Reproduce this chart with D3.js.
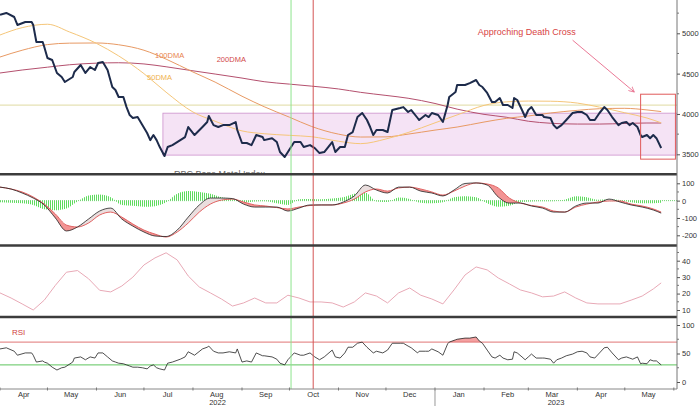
<!DOCTYPE html>
<html>
<head>
<meta charset="utf-8">
<script src="https://cdn.jsdelivr.net/npm/d3@7"></script>
<style>
  body { margin: 0; background: #fff; }
  svg { display: block; font-family: "Liberation Sans", Arial, sans-serif; }
</style>
</head>
<body>
<div id="chart"></div>
<script>
// ---- values ----
const priceDates = [
  "2022-04-01","2022-04-05","2022-04-10","2022-04-12","2022-04-17","2022-04-21","2022-04-22","2022-04-24","2022-04-28","2022-04-29",
  "2022-05-01","2022-05-04","2022-05-07","2022-05-10","2022-05-12","2022-05-17","2022-05-18","2022-05-22","2022-05-25","2022-05-28",
  "2022-05-31","2022-06-02","2022-06-05","2022-06-08","2022-06-11","2022-06-13","2022-06-15","2022-06-18","2022-06-20","2022-06-22",
  "2022-06-24","2022-06-27","2022-06-30","2022-07-03","2022-07-05","2022-07-07","2022-07-09","2022-07-11","2022-07-14","2022-07-16",
  "2022-07-19","2022-07-24","2022-07-27","2022-07-29","2022-08-02","2022-08-07","2022-08-10","2022-08-11","2022-08-14","2022-08-17",
  "2022-08-20","2022-08-24","2022-08-28","2022-08-29","2022-09-01","2022-09-04","2022-09-07","2022-09-10","2022-09-14","2022-09-15",
  "2022-09-20","2022-09-23","2022-09-25","2022-09-28","2022-09-30","2022-10-04","2022-10-08","2022-10-10","2022-10-14","2022-10-17",
  "2022-10-20","2022-10-23","2022-10-28","2022-10-30","2022-11-02","2022-11-05","2022-11-07","2022-11-10","2022-11-13","2022-11-16",
  "2022-11-19","2022-11-21","2022-11-23","2022-11-25","2022-11-29","2022-12-02","2022-12-05","2022-12-10","2022-12-12","2022-12-15",
  "2022-12-17","2022-12-21","2022-12-22","2022-12-26","2022-12-28","2022-12-30","2023-01-03","2023-01-06","2023-01-09","2023-01-10",
  "2023-01-14","2023-01-15","2023-01-20","2023-01-23","2023-01-27","2023-01-29","2023-01-31","2023-02-03","2023-02-06","2023-02-08",
  "2023-02-11","2023-02-13","2023-02-16","2023-02-19","2023-02-20","2023-02-22","2023-02-25","2023-02-27","2023-03-01","2023-03-03",
  "2023-03-06","2023-03-10","2023-03-11","2023-03-15","2023-03-17","2023-03-19","2023-03-22","2023-03-25","2023-03-29","2023-04-01",
  "2023-04-04","2023-04-07","2023-04-09","2023-04-12","2023-04-15","2023-04-18","2023-04-20","2023-04-23","2023-04-27","2023-04-29",
  "2023-05-02","2023-05-04","2023-05-06","2023-05-09","2023-05-11","2023-05-12","2023-05-15","2023-05-17","2023-05-19","2023-05-21",
  "2023-05-24"
];
const priceValues = [
  5230,5252,5202,5103,5140,5140,5103,4892,4892,4830,
  4694,4669,4508,4458,4396,4458,4520,4607,4508,4582,
  4545,4632,4644,4545,4334,4297,4210,4210,4085,3987,
  3950,3962,3862,3764,3676,3739,3676,3590,3478,3590,
  3614,3676,3714,3838,3739,3838,3900,3974,3862,3838,
  3862,3862,3900,3801,3640,3640,3614,3739,3714,3676,
  3700,3652,3528,3466,3528,3652,3652,3590,3614,3577,
  3515,3528,3652,3528,3590,3590,3739,3776,3962,4012,
  3925,3838,3739,3801,3801,3776,4049,4074,4085,4024,
  4049,3950,3925,3987,3962,4012,3987,3900,4111,4210,
  4272,4359,4359,4383,4421,4359,4334,4260,4148,4148,
  4197,4111,4111,4074,4197,4173,4049,3962,4049,4085,
  3987,3987,3962,3950,3862,3822,3862,3925,4012,4024,
  4024,3987,3925,3925,4012,4085,4049,3962,3862,3888,
  3900,3862,3888,3838,3739,3714,3739,3700,3739,3700,
  3578
];
// RSI on the same dates as the price
const rsiValues = [
  58,60,54,47,51,51,47,35,37,35,
  33,26,21,25,26,35,42,44,39,44,
  42,51,51,44,37,35,33,32,30,28,
  26,26,25,23,28,30,25,23,21,33,
  35,40,44,53,47,58,61,63,54,51,
  51,53,51,58,35,37,35,51,46,46,
  44,40,33,30,39,51,47,47,51,44,
  39,44,56,44,42,51,61,61,68,70,
  61,56,51,54,51,56,68,68,68,63,
  60,51,54,54,54,58,53,47,67,70,
  74,75,77,77,79,72,68,56,44,42,
  47,42,39,40,53,51,44,39,44,49,
  42,42,42,40,33,39,42,46,49,53,
  54,51,44,42,51,60,61,51,39,42,
  44,42,40,44,32,33,32,39,37,37,
  30
];

const maDates = [
  "2022-04-01","2022-04-15","2022-05-01","2022-05-15","2022-06-01","2022-06-15","2022-07-01","2022-07-15",
  "2022-08-01","2022-08-15","2022-09-01","2022-09-15","2022-10-01","2022-10-15","2022-11-01","2022-11-15",
  "2022-12-01","2022-12-15","2023-01-01","2023-01-15","2023-02-01","2023-02-15","2023-03-01","2023-03-15",
  "2023-04-01","2023-04-15","2023-05-01","2023-05-15","2023-05-24"
];
const ma50 = [4979,5070,5112,5016,4875,4720,4500,4270,4024,3910,3790,3755,3735,3718,3662,3632,3690,3770,3890,3988,4106,4150,4160,4158,4135,4085,4015,3950,3890];
const ma100 = [4706,4790,4860,4878,4880,4858,4790,4680,4520,4395,4220,4090,3960,3845,3750,3714,3716,3750,3800,3838,3900,3945,3975,4012,4045,4065,4070,4050,4030];
const ma200 = [4508,4545,4580,4610,4630,4635,4620,4585,4535,4495,4445,4400,4370,4345,4310,4268,4230,4195,4130,4060,3995,3960,3910,3885,3875,3875,3882,3888,3888];

const weekDates = [
  "2022-04-01","2022-04-08","2022-04-15","2022-04-22","2022-04-29","2022-05-06","2022-05-13","2022-05-20","2022-05-27",
  "2022-06-03","2022-06-10","2022-06-17","2022-06-24","2022-07-01","2022-07-08","2022-07-15","2022-07-22","2022-07-29",
  "2022-08-05","2022-08-12","2022-08-19","2022-08-26","2022-09-02","2022-09-09","2022-09-16","2022-09-23","2022-09-30",
  "2022-10-07","2022-10-14","2022-10-21","2022-10-28","2022-11-04","2022-11-11","2022-11-18","2022-11-25","2022-12-02",
  "2022-12-09","2022-12-16","2022-12-23","2022-12-30","2023-01-06","2023-01-13","2023-01-20","2023-01-27","2023-02-03",
  "2023-02-10","2023-02-17","2023-02-24","2023-03-03","2023-03-10","2023-03-17","2023-03-24","2023-03-31","2023-04-07",
  "2023-04-14","2023-04-21","2023-04-28","2023-05-05","2023-05-12","2023-05-19","2023-05-24"
];
const macdLine = [78,67,44,15,-25,-100,-175,-152,-106,-60,-43,-106,-147,-181,-204,-207,-170,-95,-25,15,15,12,-20,-37,-37,-37,-60,-43,-25,-25,-25,-8,27,90,61,44,78,78,55,44,27,61,99,102,90,21,-14,-14,-31,-43,-66,-66,-31,-14,-14,9,-8,-25,-37,-54,-72];
const signalLine = [78,67,50,21,-20,-77,-141,-152,-129,-83,-66,-95,-135,-170,-193,-210,-181,-129,-66,-20,3,9,-8,-25,-31,-40,-48,-37,-28,-25,-25,-14,9,50,67,55,73,78,67,50,32,55,84,102,96,73,15,-14,-28,-37,-60,-66,-37,-20,-8,-2,-2,-20,-31,-48,-66];
const macdHist = [-10,-12,-15,-25,-50,-55,-45,-5,30,35,20,-25,-30,-35,-32,-10,40,55,50,40,20,8,-12,-5,-3,-15,-25,8,10,8,12,20,40,45,-5,-8,18,10,-12,-15,-10,20,25,20,-15,-35,-30,-8,-5,-4,-3,5,25,20,5,8,3,-10,-15,-15,-12];
const volValues = [20.4,17.3,13.7,10,16,25,33,34,29,22,21,24.6,30,37.4,41.7,44.8,40.5,30.7,24,20.4,16.7,12.4,14.3,17.3,14.3,14.3,19,17.3,14.9,14.9,14.3,11.8,14.9,20.4,18.5,14.3,20.4,23.4,19,16.7,13.7,22.2,31.3,36.2,34.4,29.5,25.9,22.2,20.4,18,18.5,21,17.3,14.3,13.7,13.7,13.7,16,18.5,22.8,26.5];

const priceTicks = [3500, 4000, 4500, 5000];
const priceMinor = [3750, 4250, 4750, 5250];
const macdTicks = [-200, -100, 0, 100];
const macdMinor = [-150, -50, 50];
const volTicks = [10, 20, 30, 40];
const volMinor = [15, 25, 35, 45];
const rsiTicks = [0, 50, 100];
const rsiMinor = [25, 75];
const rsiLevels = [30, 70];

const rangeBox = { from: "2022-07-13", low: 3490, high: 4010 };
const resistance = 4110;
const crossBox = { from: "2023-05-11", to: "2023-06-02", low: 3440, high: 4245 };
const markerDates = { green: "2022-10-02", red: "2022-10-16" };
const maLabels = [
  { text: "100DMA", date: "2022-07-08", value: 4694, color: "#e8844e" },
  { text: "200DMA", date: "2022-08-16", value: 4644, color: "#d24a4a" },
  { text: "50DMA", date: "2022-07-03", value: 4420, color: "#f0b24e" }
];
const note = { text: "Approching Death Cross", date: "2023-01-28", value: 4975,
  arrowFrom: ["2023-03-29", 4915], arrowTo: ["2023-05-07", 4272] };

// ---- setup ----
const W = 700, H = 406, axisX = 677;
const parse = d3.utcParse("%Y-%m-%d");

const svg = d3.select("#chart").append("svg").attr("width", W).attr("height", H);
const defs = svg.append("defs");

const x = d3.scaleUtc()
  .domain([parse("2022-04-01"), parse("2023-06-03")])
  .range([0, axisX]);

const panels = {
  price: { top: 0, bottom: 173 },
  macd: { top: 175.5, bottom: 244 },
  vol: { top: 247, bottom: 315.5 },
  rsi: { top: 318.5, bottom: 389 }
};
const yPrice = d3.scaleLinear().domain([3500, 5000]).range([154.3, 33.3]);
const yMacd = d3.scaleLinear().domain([-200, 100]).range([235.3, 183.3]);
const yVol = d3.scaleLinear().domain([10, 40]).range([310, 260.7]);
const yRsi = d3.scaleLinear().domain([0, 100]).range([382, 325]);

Object.entries(panels).forEach(([k, p]) => {
  defs.append("clipPath").attr("id", "clip-" + k)
    .append("rect").attr("x", 0).attr("y", p.top)
    .attr("width", axisX).attr("height", p.bottom - p.top);
});
const pane = (k) => svg.append("g").attr("clip-path", `url(#clip-${k})`);

const price = priceDates.map((d, i) => ({ date: parse(d), v: priceValues[i], rsi: rsiValues[i] }));
const mas = maDates.map((d, i) => ({ date: parse(d), m50: ma50[i], m100: ma100[i], m200: ma200[i] }));
const weeks = weekDates.map((d, i) => ({
  date: parse(d), m: macdLine[i], s: signalLine[i], h: macdHist[i], vol: volValues[i]
}));

// ---- price panel ----
const gp = pane("price");
gp.append("rect")
  .attr("x", x(parse(rangeBox.from))).attr("y", yPrice(rangeBox.high))
  .attr("width", axisX - x(parse(rangeBox.from)))
  .attr("height", yPrice(rangeBox.low) - yPrice(rangeBox.high))
  .attr("fill", "#f5e3f5").attr("stroke", "#cc90cc").attr("stroke-width", 0.8);

gp.append("line")
  .attr("x1", 0).attr("x2", axisX)
  .attr("y1", yPrice(resistance)).attr("y2", yPrice(resistance))
  .attr("stroke", "#e6e2b4").attr("stroke-width", 1.2);

const maLine = (key) => d3.line().x(d => x(d.date)).y(d => yPrice(d[key])).curve(d3.curveMonotoneX);
[["m200", "#b4506e"], ["m100", "#e89a64"], ["m50", "#f5c679"]].forEach(([k, c]) => {
  gp.append("path").datum(mas).attr("d", maLine(k))
    .attr("fill", "none").attr("stroke", c).attr("stroke-width", 1);
});

maLabels.forEach(l => {
  gp.append("text").attr("x", x(parse(l.date))).attr("y", yPrice(l.value))
    .attr("font-size", 7.5).attr("fill", l.color).text(l.text);
});

gp.append("text")
  .attr("x", x(parse("2022-07-20"))).attr("y", panels.price.bottom + 4)
  .attr("font-size", 9).attr("fill", "#666").text("RBC Base Metal Index");

// ---- macd panel ----
const gm = pane("macd");
const macdX = d => x(d.date);
defs.append("clipPath").attr("id", "sig-above").append("path").datum(weeks)
  .attr("d", d3.area().x(macdX).y0(panels.macd.top).y1(d => yMacd(d.s)).curve(d3.curveMonotoneX));
defs.append("clipPath").attr("id", "sig-below").append("path").datum(weeks)
  .attr("d", d3.area().x(macdX).y0(panels.macd.bottom).y1(d => yMacd(d.s)).curve(d3.curveMonotoneX));

const pattern = defs.append("pattern").attr("id", "hstripe")
  .attr("width", 2).attr("height", 4).attr("patternUnits", "userSpaceOnUse");
pattern.append("rect").attr("width", 1).attr("height", 4).attr("fill", "#5fdc5f");

gm.append("path").datum(weeks)
  .attr("d", d3.area().x(macdX).y0(yMacd(0)).y1(d => yMacd(d.h)).curve(d3.curveMonotoneX))
  .attr("fill", "url(#hstripe)");
gm.append("line").attr("x1", 0).attr("x2", axisX)
  .attr("y1", yMacd(0)).attr("y2", yMacd(0))
  .attr("stroke", "#72d472").attr("stroke-width", 1).attr("stroke-dasharray", "1,1");

const between = d3.area().x(macdX).y0(d => yMacd(d.s)).y1(d => yMacd(d.m)).curve(d3.curveMonotoneX);
gm.append("g").attr("clip-path", "url(#sig-above)")
  .append("path").datum(weeks).attr("d", between).attr("fill", "#eadede");
gm.append("g").attr("clip-path", "url(#sig-below)")
  .append("path").datum(weeks).attr("d", between).attr("fill", "#f39494");

gm.append("path").datum(weeks)
  .attr("d", d3.line().x(macdX).y(d => yMacd(d.s)).curve(d3.curveMonotoneX))
  .attr("fill", "none").attr("stroke", "#e06262").attr("stroke-width", 1);
gm.append("path").datum(weeks)
  .attr("d", d3.line().x(macdX).y(d => yMacd(d.m)).curve(d3.curveMonotoneX))
  .attr("fill", "none").attr("stroke", "#222").attr("stroke-width", 0.8);

// ---- volatility panel ----
const gv = pane("vol");
gv.append("path").datum(weeks)
  .attr("d", d3.line().x(macdX).y(d => yVol(d.vol)))
  .attr("fill", "none").attr("stroke", "#e8a9b6").attr("stroke-width", 1);

// ---- rsi panel ----
const gr = pane("rsi");
defs.append("clipPath").attr("id", "rsi-over")
  .append("rect").attr("x", 0).attr("y", panels.rsi.top)
  .attr("width", axisX).attr("height", yRsi(70) - panels.rsi.top);
gr.append("g").attr("clip-path", "url(#rsi-over)")
  .append("path").datum(price)
  .attr("d", d3.area().x(d => x(d.date)).y0(yRsi(70)).y1(d => yRsi(d.rsi)))
  .attr("fill", "#f4a0a0");
gr.selectAll(".lvl").data(rsiLevels).enter().append("line")
  .attr("x1", 0).attr("x2", axisX)
  .attr("y1", d => yRsi(d)).attr("y2", d => yRsi(d))
  .attr("stroke", d => d === 70 ? "#e07474" : "#5cc45c").attr("stroke-width", 1);
gr.append("path").datum(price)
  .attr("d", d3.line().x(d => x(d.date)).y(d => yRsi(d.rsi)))
  .attr("fill", "none").attr("stroke", "#222").attr("stroke-width", 0.8);
gr.append("text").attr("x", 12).attr("y", panels.rsi.top + 16)
  .attr("font-size", 8).attr("fill", "#d04040").text("RSI");

// ---- vertical marker lines across all panels ----
[[markerDates.green, "#8ee48e"], [markerDates.red, "#d45454"]].forEach(([d, c]) => {
  svg.append("line").attr("x1", x(parse(d))).attr("x2", x(parse(d)))
    .attr("y1", 0).attr("y2", panels.rsi.bottom)
    .attr("stroke", c).attr("stroke-width", 1);
});

// price line + box + note on top
gp.append("path").datum(price)
  .attr("d", d3.line().x(d => x(d.date)).y(d => yPrice(d.v)))
  .attr("fill", "none").attr("stroke", "#1d2b4b").attr("stroke-width", 2)
  .attr("stroke-linejoin", "round");

gp.append("rect")
  .attr("x", x(parse(crossBox.from))).attr("y", yPrice(crossBox.high))
  .attr("width", x(parse(crossBox.to)) - x(parse(crossBox.from)))
  .attr("height", yPrice(crossBox.low) - yPrice(crossBox.high))
  .attr("fill", "none").attr("stroke", "#e05a5a").attr("stroke-width", 1);

defs.append("marker").attr("id", "arrow")
  .attr("viewBox", "0 0 8 8").attr("refX", 7).attr("refY", 4)
  .attr("markerWidth", 7).attr("markerHeight", 7).attr("orient", "auto")
  .append("path").attr("d", "M0,0.5 L7,4 L0,7.5")
  .attr("fill", "none").attr("stroke", "#e86a8a").attr("stroke-width", 1);
gp.append("line")
  .attr("x1", x(parse(note.arrowFrom[0]))).attr("y1", yPrice(note.arrowFrom[1]))
  .attr("x2", x(parse(note.arrowTo[0]))).attr("y2", yPrice(note.arrowTo[1]))
  .attr("stroke", "#e86a8a").attr("stroke-width", 0.9).attr("marker-end", "url(#arrow)");
gp.append("text").attr("x", x(parse(note.date))).attr("y", yPrice(note.value))
  .attr("font-size", 9).attr("fill", "#d84444").text(note.text);

// ---- panel dividers ----
[panels.price.bottom + 1.2, panels.macd.bottom + 1.5, panels.vol.bottom + 1.5].forEach(y => {
  svg.append("line").attr("x1", 0).attr("x2", axisX).attr("y1", y).attr("y2", y)
    .attr("stroke", "#3c3c3c").attr("stroke-width", 2.6);
});

// ---- right axis ----
svg.append("line").attr("x1", axisX).attr("x2", axisX).attr("y1", 0).attr("y2", panels.rsi.bottom)
  .attr("stroke", "#777").attr("stroke-width", 1);

function rightAxis(scale, major, minor, fmt) {
  const g = svg.append("g").attr("transform", `translate(${axisX},0)`);
  const ax = d3.axisRight(scale).tickValues(major).tickSize(3).tickPadding(2).tickFormat(fmt || d3.format("d"));
  g.call(ax);
  g.select(".domain").remove();
  g.selectAll("line").attr("stroke", "#555");
  g.selectAll("text").attr("font-size", 7.5).attr("fill", "#333")
    .attr("font-family", "Liberation Sans, Arial, sans-serif");
  g.selectAll(".minor").data(minor).enter().append("line")
    .attr("x1", 0).attr("x2", 2).attr("y1", d => scale(d)).attr("y2", d => scale(d))
    .attr("stroke", "#777");
}
rightAxis(yPrice, priceTicks, priceMinor);
rightAxis(yMacd, macdTicks, macdMinor, d => d < 0 ? "-" + Math.abs(d) : d);
rightAxis(yVol, volTicks, volMinor);
rightAxis(yRsi, rsiTicks, rsiMinor);

// ---- bottom time axis ----
const axisY = panels.rsi.bottom;
svg.append("line").attr("x1", 0).attr("x2", axisX).attr("y1", axisY).attr("y2", axisY)
  .attr("stroke", "#888").attr("stroke-width", 1);
const monthStarts = d3.utcMonth.range(parse("2022-04-01"), parse("2023-06-02"));
svg.selectAll(".mtick").data(monthStarts).enter().append("line")
  .attr("x1", d => x(d)).attr("x2", d => x(d))
  .attr("y1", axisY - 1.5).attr("y2", axisY + 1.5)
  .attr("stroke", "#777");
svg.selectAll(".mlab").data(monthStarts.slice(0, -1)).enter().append("text")
  .attr("x", d => x(d3.utcDay.offset(d, 15)))
  .attr("y", axisY + 8).attr("text-anchor", "middle")
  .attr("font-size", 7.5).attr("fill", "#333")
  .text(d3.utcFormat("%b"));

const yearSplit = parse("2023-01-01");
svg.append("line").attr("x1", x(yearSplit)).attr("x2", x(yearSplit))
  .attr("y1", axisY).attr("y2", H).attr("stroke", "#999");
[["2022", x.range()[0], x(yearSplit)], ["2023", x(yearSplit), axisX]].forEach(([t, a, b]) => {
  svg.append("text").attr("x", (a + b) / 2).attr("y", axisY + 16)
    .attr("text-anchor", "middle").attr("font-size", 7.5).attr("fill", "#333").text(t);
});
</script>
</body>
</html>
